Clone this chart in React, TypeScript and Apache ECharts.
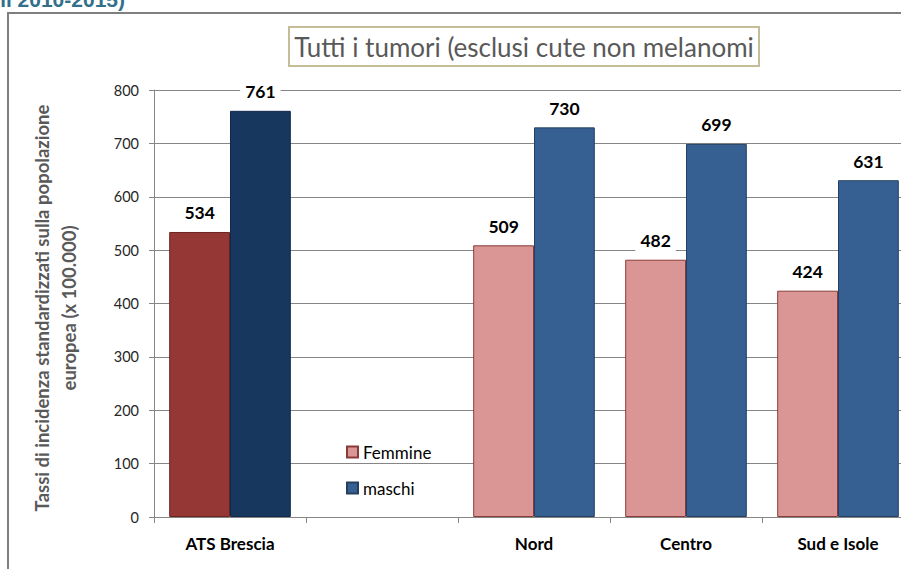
import React, { useEffect, useRef } from 'react';
import * as echarts from 'echarts';

const categories = ['ATS Brescia', '', 'Nord', 'Centro', 'Sud e Isole'];
const femmine: (number | null)[] = [534, null, 509, 482, 424];
const maschi: (number | null)[] = [761, null, 730, 699, 631];
const seriesNames = ['Femmine', 'maschi'];
const chartTitle = 'Tutti i tumori (esclusi cute non melanomi';
const yAxisTitle = 'Tassi di incidenza standardizzati sulla popolazione\neuropea (x 100.000)';
const topText = 'Anni 2010-2015)';

const FONT = 'Lato, "Open Sans", sans-serif';

export default function App() {
  const ref = useRef<HTMLDivElement>(null);
  useEffect(() => {
    if (!ref.current) return;
    const chart = echarts.init(ref.current, null, { renderer: 'svg' });
    const label = {
      show: true,
      position: 'top',
      distance: 8,
      backgroundColor: '#ffffff',
      padding: [2, 5],
      fontFamily: FONT,
      fontWeight: 'bold',
      fontSize: 17.5,
      color: '#000000',
    };
    const fData = femmine.map((v, i) =>
      i === 0
        ? { value: v, itemStyle: { color: '#953735', borderColor: '#6b2322' } }
        : { value: v }
    );
    const mData = maschi.map((v, i) =>
      i === 0
        ? { value: v, itemStyle: { color: '#17375e', borderColor: '#10294a' } }
        : { value: v }
    );
    chart.setOption({
      animation: false,
      backgroundColor: '#ffffff',
      textStyle: { fontFamily: FONT },
      grid: {
        left: 154,
        top: 90,
        width: 760,
        height: 427,
        containLabel: false,
        outerBoundsMode: 'none',
      },
      legend: {
        orient: 'vertical',
        left: 341,
        top: 437,
        itemWidth: 11,
        itemHeight: 11,
        itemGap: 16,
        icon: 'rect',
        textStyle: { fontFamily: FONT, fontSize: 17, color: '#000000', lineHeight: 20 },
        data: seriesNames,
      },
      xAxis: {
        type: 'category',
        data: categories,
        axisLine: { show: true, lineStyle: { color: '#868686', width: 1 } },
        axisTick: { show: true, length: 6, lineStyle: { color: '#868686' } },
        axisLabel: {
          margin: 18,
          fontFamily: FONT,
          fontWeight: 'bold',
          fontSize: 17,
          color: '#000000',
        },
      },
      yAxis: {
        type: 'value',
        min: 0,
        max: 800,
        interval: 100,
        axisLine: { show: true, lineStyle: { color: '#868686', width: 1 } },
        axisTick: { show: true, length: 5, lineStyle: { color: '#868686' } },
        splitLine: { show: true, lineStyle: { color: '#868686', width: 1 } },
        axisLabel: { margin: 15, fontFamily: FONT, fontSize: 14.5, color: '#262626' },
      },
      series: [
        {
          name: seriesNames[0],
          type: 'bar',
          barCategoryGap: '20%',
          barGap: '0%',
          data: fData,
          itemStyle: { color: '#d99694', borderColor: '#8c3a38', borderWidth: 1 },
          label,
        },
        {
          name: seriesNames[1],
          type: 'bar',
          barCategoryGap: '20%',
          barGap: '0%',
          data: mData,
          itemStyle: { color: '#366092', borderColor: '#244061', borderWidth: 1 },
          label,
        },
      ],
      graphic: [
        {
          type: 'line',
          shape: { x1: 8, y1: 13, x2: 905, y2: 13 },
          style: { stroke: '#7f7f7f', lineWidth: 2 },
          z: 1,
        },
        {
          type: 'line',
          shape: { x1: 8, y1: 12, x2: 8, y2: 575 },
          style: { stroke: '#7f7f7f', lineWidth: 2 },
          z: 1,
        },
        {
          type: 'text',
          x: 125,
          y: -1,
          style: {
            text: topText,
            textAlign: 'right',
            textVerticalAlign: 'middle',
            fontFamily: 'Arial, "Liberation Sans", sans-serif',
            fontWeight: 'bold',
            fontSize: 21,
            fill: '#31708a',
          },
          z: 10,
        },
        {
          type: 'rect',
          shape: { x: 289, y: 27, width: 470, height: 39 },
          style: { fill: '#ffffff', stroke: '#c4bd97', lineWidth: 2 },
          z: 10,
        },
        {
          type: 'text',
          x: 524,
          y: 47,
          style: {
            text: chartTitle,
            textAlign: 'center',
            textVerticalAlign: 'middle',
            fontFamily: FONT,
            fontSize: 26,
            fill: '#595959',
          },
          z: 11,
        },
        {
          type: 'text',
          x: 55,
          y: 308,
          rotation: Math.PI / 2,
          style: {
            text: yAxisTitle,
            textAlign: 'center',
            textVerticalAlign: 'middle',
            fontFamily: FONT,
            fontWeight: 'bold',
            fontSize: 18.5,
            lineHeight: 27,
            fill: '#595959',
          },
          z: 10,
        },
      ],
    });
    return () => chart.dispose();
  }, []);
  return (
    <div
      ref={ref}
      style={{ position: 'fixed', left: 0, top: 0, width: 901, height: 569, background: '#fff' }}
    />
  );
}
